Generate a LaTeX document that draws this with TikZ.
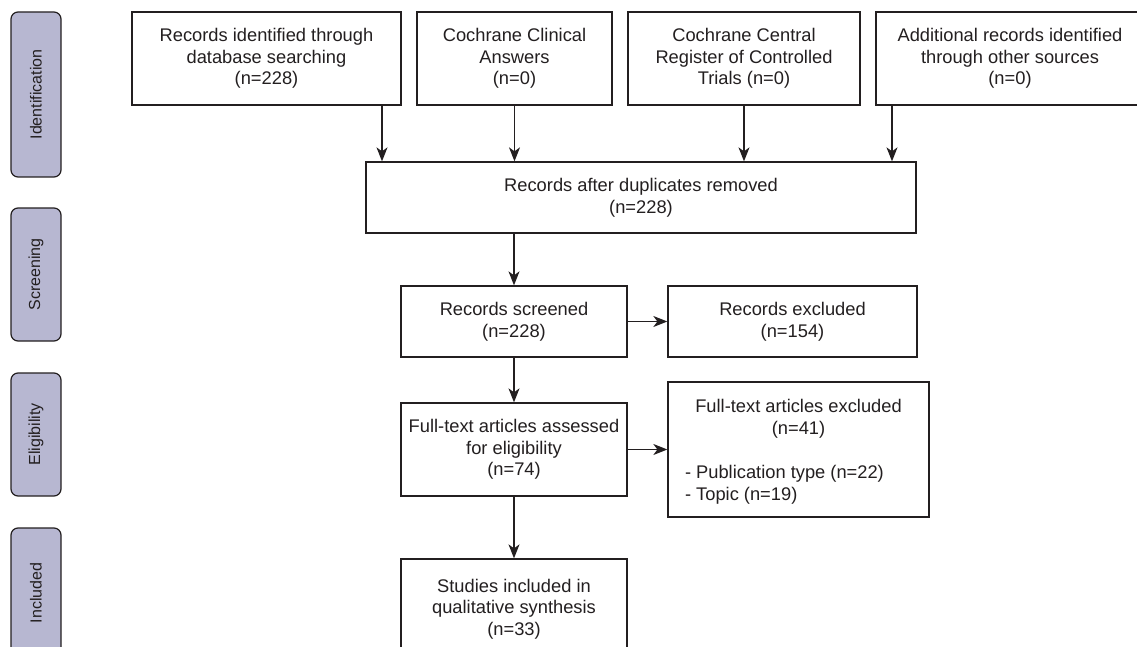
\documentclass[tikz,border=0pt]{standalone}
\usepackage{fontspec}
\setmainfont{Liberation Sans}
\usetikzlibrary{arrows.meta}
\definecolor{ink}{HTML}{231F20}
\definecolor{lav}{HTML}{B7B7D1}
\begin{document}
\begin{tikzpicture}[x=1pt,y=-1pt,
  box/.style={draw=ink, line width=1.3pt, fill=white, text=ink, align=center, inner sep=0pt,
    font=\fontsize{18.3}{21.7}\selectfont},
  phase/.style={draw=ink, line width=1.2pt, fill=lav, rounded corners=7pt, rotate=90, text=ink,
    inner sep=0pt, minimum height=50pt, font=\fontsize{16}{19}\selectfont},
  txt/.style={text=ink, inner sep=0pt, font=\fontsize{18.3}{21.7}\selectfont},
  arr/.style={draw=ink, line width=1.3pt, -{Stealth[length=14pt,width=11pt,inset=4pt]}}]
\useasboundingbox (0,0) rectangle (1137,647);
\clip (0,0) rectangle (1137,647);
% phase labels
\node[phase, minimum width=165pt] (pid) at (36,94.5) {Identification};
\node[phase, minimum width=133pt] (psc) at (36,274.5) {Screening};
\node[phase, minimum width=123pt] (pel) at (36,434.5) {Eligibility};
\node[phase, minimum width=130pt] (pin) at (36,593) {Included};
% identification boxes
\node[box, minimum width=269pt, minimum height=93pt] (b1) at (266.5,58.5) {Records identified through\\database searching\\(n=228)};
\node[box, minimum width=195pt, minimum height=93pt] (b2) at (514.5,58.5) {Cochrane Clinical\\Answers\\(n=0)};
\node[box, minimum width=232pt, minimum height=93pt] (b3) at (744,58.5) {Cochrane Central\\Register of Controlled\\Trials (n=0)};
\node[box, minimum width=268pt, minimum height=93pt] (b4) at (1010,58.5) {Additional records identified\\through other sources\\(n=0)};
\node[box, minimum width=550pt, minimum height=71pt] (dup) at (641,197.5) {Records after duplicates removed\\(n=228)};
% screening
\node[box, minimum width=226pt, minimum height=71pt] (scr) at (514,321.5) {Records screened\\(n=228)};
\node[box, minimum width=249pt, minimum height=71pt] (exc) at (792.5,321.5) {Records excluded\\(n=154)};
% eligibility
\node[box, minimum width=226pt, minimum height=93pt] (ft) at (514,449.5) {Full-text articles assessed\\for eligibility\\(n=74)};
\node[box, minimum width=261pt, minimum height=135pt] (ftx) at (798.5,449.5) {};
\node[txt, anchor=north] (ftxa) at ([yshift=-18pt]ftx.north) {\parbox{227pt}{\centering Full-text articles excluded\\(n=41)}};
\node[txt, anchor=south] (ftxb) at ([yshift=13pt]ftx.south) {\parbox{227pt}{\raggedright - Publication type (n=22)\\- Topic (n=19)}};
% included
\node[box, minimum width=226pt, minimum height=100pt] (inc) at (514,609) {Studies included in\\qualitative synthesis\\(n=33)};
% arrows
\draw[arr] ([xshift=115.5pt]b1.south) -- ([xshift=115.5pt]b1.south |- dup.north);
\draw[arr] (b2.south) -- (b2.south |- dup.north);
\draw[arr] (b3.south) -- (b3.south |- dup.north);
\draw[arr] ([xshift=-118pt]b4.south) -- ([xshift=-118pt]b4.south |- dup.north);
\draw[arr] (scr.north |- dup.south) -- (scr.north);
\draw[arr] (scr.east) -- (exc.west |- scr.east);
\draw[arr] (scr.south) -- (ft.north);
\draw[arr] (ft.east) -- (ftx.west |- ft.east);
\draw[arr] (ft.south) -- (inc.north);
\end{tikzpicture}
\end{document}
